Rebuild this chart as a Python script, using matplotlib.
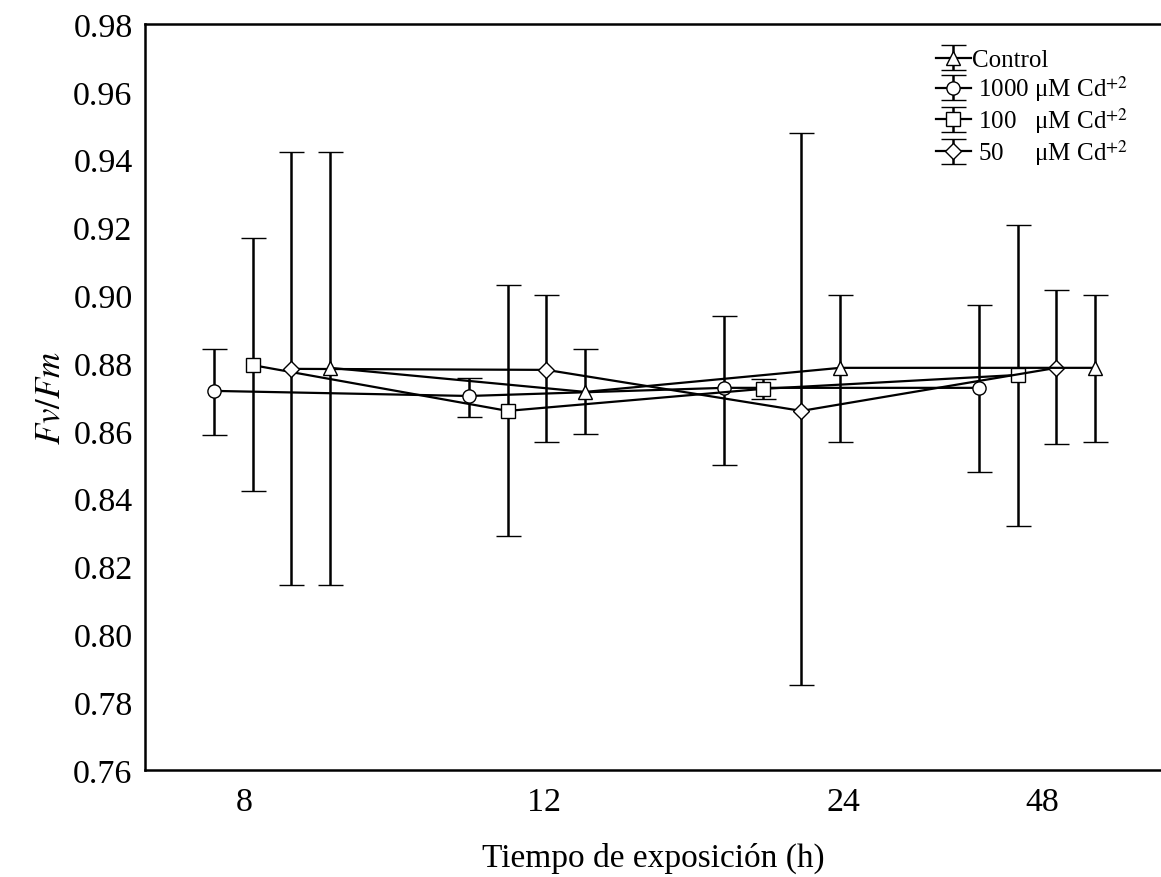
import numpy as np
import matplotlib
matplotlib.use("Agg")
import matplotlib.pyplot as plt

plt.rcParams['font.family'] = 'Liberation Serif'
plt.rcParams['mathtext.fontset'] = 'stix'

# data
horas = ['8', '12', '24', '48']
series = [' 1000 μM Cd$^{+2}$', ' 100   μM Cd$^{+2}$', ' 50     μM Cd$^{+2}$', 'Control']
marcadores = ['o', 's', 'D', '^']

media_1000 = [0.8718, 0.8703, 0.8727, 0.8727]
inf_1000 = [0.8588, 0.8641, 0.8500, 0.8480]
sup_1000 = [0.8842, 0.8756, 0.8939, 0.8971]

media_100 = [0.8794, 0.8659, 0.8724, 0.8765]
inf_100 = [0.8423, 0.8290, 0.8694, 0.8320]
sup_100 = [0.9169, 0.9030, 0.8753, 0.9207]

media_50 = [0.8783, 0.8780, 0.8659, 0.8786]
inf_50 = [0.8146, 0.8567, 0.7850, 0.8561]
sup_50 = [0.9422, 0.9000, 0.9480, 0.9016]

media_ctrl = [0.8786, 0.8715, 0.8786, 0.8786]
inf_ctrl = [0.8146, 0.8591, 0.8567, 0.8567]
sup_ctrl = [0.9422, 0.8842, 0.9001, 0.9001]

medias = [media_1000, media_100, media_50, media_ctrl]
inferiores = [inf_1000, inf_100, inf_50, inf_ctrl]
superiores = [sup_1000, sup_100, sup_50, sup_ctrl]

fig = plt.figure(figsize=(11.61, 8.78), dpi=100)
ax = fig.add_axes([0.1249, 0.1219, 0.8751, 0.8496])

x = np.arange(len(horas))
paso = 0.152
handles = {}
for i, (m, lo, hi, mk, lab) in enumerate(zip(medias, inferiores, superiores, marcadores, series)):
    m = np.array(m)
    err = [m - np.array(lo), np.array(hi) - m]
    ms = 8 if mk == 'D' else 9.5
    h = ax.errorbar(x + (i - 1.5) * paso, m, yerr=err, color='black', lw=1.6,
                    elinewidth=1.8, capsize=9, capthick=1.8, marker=mk, ms=ms,
                    mfc='white', mec='black', mew=1.0, zorder=3)
    handles[lab] = h

ax.set_ylim(0.76, 0.98)
ax.set_yticks(np.arange(0.76, 0.981, 0.02))
ax.yaxis.set_major_formatter(matplotlib.ticker.FormatStrFormatter('%.2f'))
ax.set_xlim(-0.498, 3.486)
# the category labels in the original sit slightly off the group centres
ax.set_xticks([-0.11, 1.067, 2.24, 3.02])
ax.set_xticklabels(horas)
ax.tick_params(length=0, labelsize=24.5, pad=12)
ax.tick_params(axis='y', pad=9)
for s in ['left', 'bottom', 'top']:
    ax.spines[s].set_linewidth(1.8)
ax.spines['right'].set_visible(False)

ax.set_xlabel('Tiempo de exposición (h)', fontsize=24, labelpad=18)
ax.set_ylabel('$Fv/Fm$', fontsize=25, labelpad=4)

orden = ['Control', series[0], series[1], series[2]]
ax.legend([handles[k] for k in orden], orden, loc='upper right',
          bbox_to_anchor=(0.985, 0.99), frameon=False, fontsize=18,
          handlelength=1.4, handletextpad=0.05, labelspacing=0.08, borderaxespad=0.3)

plt.savefig('out.png', dpi=100)
